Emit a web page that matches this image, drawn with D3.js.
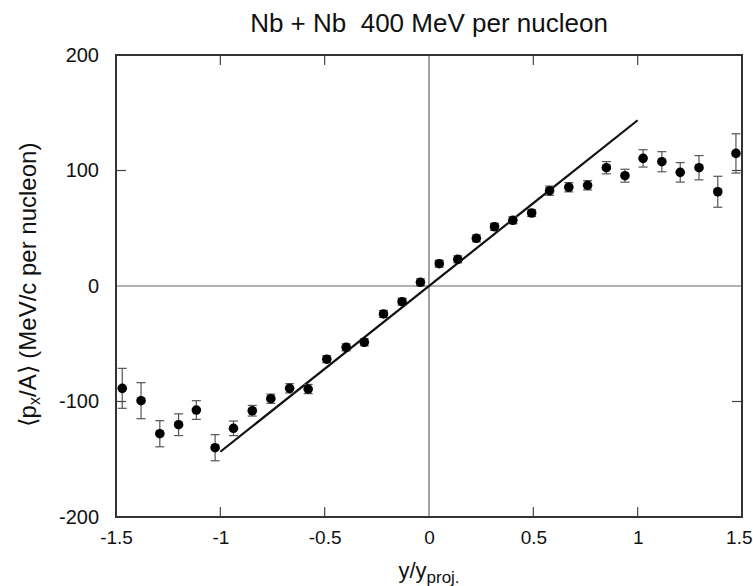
<!DOCTYPE html>
<html>
<head>
<meta charset="utf-8">
<script src="https://cdn.jsdelivr.net/npm/d3@7/dist/d3.min.js"></script>
<style>
  html, body { margin: 0; padding: 0; background: #fff; }
  svg { display: block; }
  text { font-family: "Liberation Sans", Arial, Helvetica, sans-serif; fill: #111; }
</style>
</head>
<body>
<svg id="chart" width="753" height="586"></svg>
<script>
// ---- data ----
const rapidity = [-1.47, -1.38, -1.29, -1.20, -1.115, -1.025, -0.937, -0.847, -0.758, -0.668, -0.579, -0.490,
  -0.397, -0.31, -0.218, -0.129, -0.041, 0.049, 0.138, 0.227, 0.314, 0.402, 0.492,
  0.578, 0.67, 0.76, 0.85, 0.939, 1.026, 1.116, 1.204, 1.294, 1.384, 1.471];
const pxA = [-88.6, -99.3, -127.9, -120.1, -107.4, -140.0, -123.2, -108.0, -97.6, -88.6, -89.2, -63.4,
  -53.1, -48.7, -24.2, -13.6, 3.2, 19.3, 23.1, 41.3, 51.3, 56.9, 63.2,
  82.5, 85.5, 87.2, 102.4, 95.5, 110.5, 107.6, 98.4, 102.4, 81.6, 114.8];
const pxAErr = [17.3, 15.6, 11.3, 9.4, 8.1, 11.3, 6.3, 4.6, 4, 4, 4, 3,
  3, 3, 3, 3, 3, 3, 3, 3, 3, 3, 3,
  4, 4, 4, 5.3, 5.6, 7.5, 8.7, 8.4, 10.5, 13.4, 17];
const fitX = [-1, 1];
const fitY = [-143.5, 143.5];
const xTicks = [-1.5, -1, -0.5, 0, 0.5, 1, 1.5];
const xTickLabels = ["-1.5", "-1", "-0.5", "0", "0.5", "1", "1.5"];
const yTicks = [-200, -100, 0, 100, 200];
const yTickLabels = ["-200", "-100", "0", "100", "200"];
const xInnerTicks = [-1, -0.5, 0.5, 1];
const yInnerTicks = [-100, 100];

// ---- layout ----
const svg = d3.select("#chart");
const pLeft = 116, pRight = 742, pTop = 55, pBottom = 517;
const x = d3.scaleLinear().domain([-1.5, 1.5]).range([pLeft, pRight]);
const y = d3.scaleLinear().domain([-200, 200]).range([pBottom, pTop]);

// zero lines
svg.append("line").attr("x1", x(0)).attr("x2", x(0)).attr("y1", pTop).attr("y2", pBottom)
  .attr("stroke", "#666").attr("stroke-width", 1.2);
svg.append("line").attr("x1", pLeft).attr("x2", pRight).attr("y1", y(0)).attr("y2", y(0))
  .attr("stroke", "#666").attr("stroke-width", 1.2);

// axes with labels (bottom, left)
const tickLen = 10;
const gx = svg.append("g").attr("transform", `translate(0,${pBottom})`)
  .call(d3.axisBottom(x).tickValues(xTicks).tickSize(0).tickPadding(14)
    .tickFormat((d, i) => xTickLabels[i]));
gx.select(".domain").remove();
gx.selectAll("text").attr("font-size", 19).style("font-family", '"Liberation Sans", Arial, sans-serif').attr("fill", "#111");
// keep the last label inside the page
gx.selectAll(".tick").filter(d => d === 1.5).select("text").attr("text-anchor", "end").attr("x", 752 - pRight);

const gy = svg.append("g").attr("transform", `translate(${pLeft},0)`)
  .call(d3.axisLeft(y).tickValues(yTicks).tickSize(0).tickPadding(17)
    .tickFormat((d, i) => yTickLabels[i]));
gy.select(".domain").remove();
gy.selectAll("text").attr("font-size", 20).style("font-family", '"Liberation Sans", Arial, sans-serif').attr("fill", "#111");

// inward ticks on all four sides
const tickG = svg.append("g").attr("stroke", "#444").attr("stroke-width", 1.2);
xInnerTicks.forEach(v => {
  tickG.append("line").attr("x1", x(v)).attr("x2", x(v)).attr("y1", pTop).attr("y2", pTop + tickLen);
  tickG.append("line").attr("x1", x(v)).attr("x2", x(v)).attr("y1", pBottom).attr("y2", pBottom - tickLen);
});
yInnerTicks.forEach(v => {
  tickG.append("line").attr("x1", pLeft).attr("x2", pLeft + tickLen).attr("y1", y(v)).attr("y2", y(v));
  tickG.append("line").attr("x1", pRight).attr("x2", pRight - tickLen).attr("y1", y(v)).attr("y2", y(v));
});

// frame
svg.append("rect").attr("x", pLeft).attr("y", pTop).attr("width", pRight - pLeft).attr("height", pBottom - pTop)
  .attr("fill", "none").attr("stroke", "#333").attr("stroke-width", 2);

// fit line
const pts = fitX.map((v, i) => [v, fitY[i]]);
svg.append("path").datum(pts)
  .attr("d", d3.line().x(d => x(d[0])).y(d => y(d[1])))
  .attr("stroke", "#111").attr("stroke-width", 2.2).attr("fill", "none");

// data with error bars
const data = rapidity.map((v, i) => ({ x: v, y: pxA[i], e: pxAErr[i] }));
const eb = svg.append("g").attr("stroke", "#555").attr("stroke-width", 1.2);
const cap = 4.5;
data.forEach(d => {
  eb.append("line").attr("x1", x(d.x)).attr("x2", x(d.x)).attr("y1", y(d.y - d.e)).attr("y2", y(d.y + d.e));
  eb.append("line").attr("x1", x(d.x) - cap).attr("x2", x(d.x) + cap).attr("y1", y(d.y - d.e)).attr("y2", y(d.y - d.e));
  eb.append("line").attr("x1", x(d.x) - cap).attr("x2", x(d.x) + cap).attr("y1", y(d.y + d.e)).attr("y2", y(d.y + d.e));
});
svg.append("g").selectAll("circle").data(data).join("circle")
  .attr("cx", d => x(d.x)).attr("cy", d => y(d.y)).attr("r", 4.8).attr("fill", "#000");

// title
svg.append("text").attr("x", x(0)).attr("y", 32).attr("text-anchor", "middle")
  .attr("font-size", 26).text("Nb + Nb\u00A0\u00A0400 MeV per nucleon");

// x label
const xl = svg.append("text").attr("x", x(0)).attr("y", 578).attr("text-anchor", "middle").attr("font-size", 22);
xl.append("tspan").text("y/y");
xl.append("tspan").attr("font-size", 17).attr("dy", 5).text("proj.");

// y label
const yl = svg.append("text").attr("transform", `translate(36,285) rotate(-90)`)
  .attr("text-anchor", "middle").attr("font-size", 24);
yl.append("tspan").text("\u27E8p");
yl.append("tspan").attr("font-size", 16).attr("dy", 4).text("x");
yl.append("tspan").attr("dy", -4).text("/A\u27E9 (MeV/c per nucleon)");
</script>
</body>
</html>
